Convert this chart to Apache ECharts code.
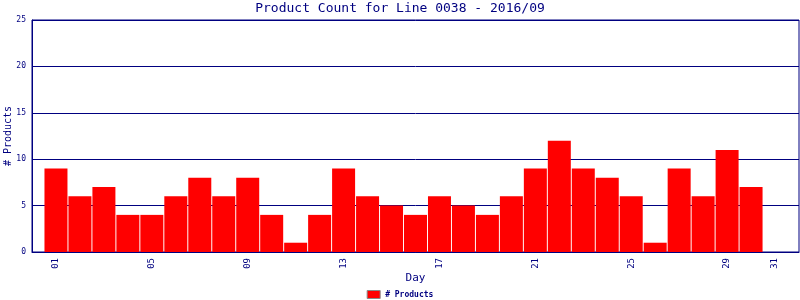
<!DOCTYPE html>
<html>
<head>
<meta charset="utf-8">
<script src="https://cdn.jsdelivr.net/npm/echarts@6/dist/echarts.min.js"></script>
<style>html,body{margin:0;padding:0;background:#fff}#c{width:800px;height:300px}</style>
</head>
<body>
<div id="c"></div>
<script>
const days = ['01','02','03','04','05','06','07','08','09','10','11','12','13','14','15','16','17','18','19','20','21','22','23','24','25','26','27','28','29','30','31'];
const products = [9,6,7,4,4,6,8,6,8,4,1,4,9,6,5,4,6,5,4,6,9,12,9,8,6,1,9,6,11,7,null];
const shownLabels = ['01','05','09','13','17','21','25','29','31'];

const cats = [''].concat(days).concat(['']);
const vals = ['-'].concat(products.map(v => v == null ? '-' : v)).concat(['-']);
const navy = '#000080';
const mono = 'DejaVu Sans Mono';

const chart = echarts.init(document.getElementById('c'));
chart.setOption({
  animation: false,
  title: {
    text: 'Product Count for Line 0038 - 2016/09',
    left: 'center', top: -3,
    textStyle: {color: navy, fontFamily: mono, fontSize: 13, fontWeight: 'normal'}
  },
  legend: {
    bottom: -4, left: 'center',
    itemWidth: 13, itemHeight: 8, itemGap: 4,
    textStyle: {color: navy, fontFamily: mono, fontSize: 8, fontWeight: 'bold'},
    data: [{name: '# Products', icon: 'rect', itemStyle: {borderColor: '#888', borderWidth: 1}}]
  },
  grid: {left: 32, right: 1, top: 20, bottom: 48, show: true, borderColor: navy, borderWidth: 1,
         containLabel: false, outerBoundsMode: 'none'},
  xAxis: {
    type: 'category', data: cats, boundaryGap: false,
    name: 'Day', nameLocation: 'middle', nameGap: 21, nameMoveOverlap: false,
    nameTextStyle: {color: navy, fontFamily: mono, fontSize: 11},
    axisLine: {lineStyle: {color: navy}},
    axisTick: {show: false},
    axisLabel: {
      rotate: 90, color: navy, fontFamily: mono, fontSize: 9, margin: 6,
      interval: (i, v) => shownLabels.includes(v)
    },
    splitLine: {show: false}
  },
  yAxis: {
    type: 'value', min: 0, max: 25, interval: 5,
    name: '# Products', nameLocation: 'middle', nameGap: 19, nameRotate: 90, nameMoveOverlap: false,
    nameTextStyle: {color: navy, fontFamily: mono, fontSize: 10},
    axisLine: {show: true, lineStyle: {color: navy}},
    axisTick: {show: false},
    axisLabel: {color: navy, fontFamily: mono, fontSize: 8, margin: 6},
    splitLine: {lineStyle: {color: navy, width: 1}}
  },
  series: [{
    name: '# Products', type: 'bar', data: vals, barWidth: 23,
    itemStyle: {color: '#ff0000'}
  }]
});
</script>
</body>
</html>
